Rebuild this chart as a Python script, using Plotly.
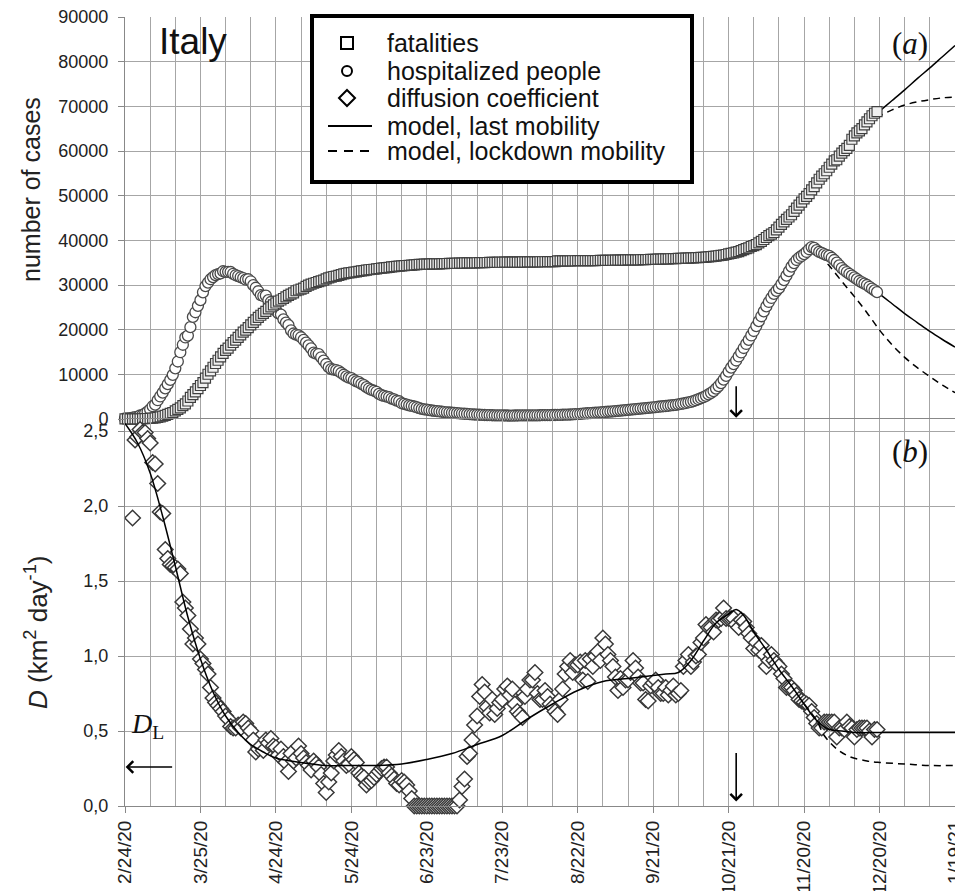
import pandas as pd
import plotly.graph_objects as go

START = "2020-02-24"

# cumulative fatalities, daily from 2/24/20
fatalities = [
    7, 10, 12, 17, 21, 29, 34, 52, 79, 107,
    148, 197, 233, 366, 463, 631, 827, 1016, 1266, 1441,
    1809, 2158, 2503, 2978, 3405, 4032, 4825, 5476, 6077, 6820,
    7503, 8165, 9134, 10023, 10779, 11591, 12428, 13155, 13915, 14681,
    15362, 15887, 16523, 17127, 17669, 18279, 18849, 19468, 19899, 20465,
    21067, 21645, 22170, 22745, 23227, 23660, 24114, 24648, 25085, 25549,
    25969, 26384, 26644, 26977, 27359, 27682, 27967, 28236, 28710, 28884,
    29079, 29315, 29684, 29958, 30201, 30395, 30560, 30739, 30911, 31106,
    31368, 31610, 31763, 31908, 32007, 32169, 32330, 32486, 32616, 32735,
    32785, 32877, 32955, 33072, 33142, 33229, 33340, 33415, 33475, 33530,
    33601, 33689, 33774, 33846, 33899, 33964, 34043, 34114, 34167, 34223,
    34301, 34345, 34371, 34405, 34448, 34514, 34561, 34610, 34634, 34657,
    34675, 34682, 34708, 34716, 34738, 34744, 34767, 34788, 34818, 34833,
    34854, 34861, 34869, 34899, 34914, 34926, 34938, 34945, 34954, 34967,
    34984, 34997, 35017, 35028, 35042, 35045, 35058, 35073, 35082, 35092,
    35097, 35102, 35107, 35112, 35123, 35129, 35132, 35141, 35146, 35154,
    35166, 35171, 35181, 35187, 35190, 35203, 35205, 35209, 35215, 35225,
    35231, 35234, 35392, 35396, 35400, 35405, 35412, 35418, 35427, 35430,
    35437, 35441, 35445, 35458, 35463, 35472, 35473, 35477, 35483, 35491,
    35497, 35507, 35518, 35534, 35541, 35553, 35563, 35577, 35587, 35597,
    35603, 35610, 35624, 35633, 35645, 35658, 35668, 35692, 35707, 35724,
    35738, 35758, 35781, 35801, 35818, 35835, 35851, 35875, 35894, 35918,
    35941, 35968, 35986, 36002, 36030, 36061, 36083, 36111, 36140, 36166,
    36205, 36246, 36289, 36372, 36427, 36474, 36543, 36616, 36705, 36832,
    36968, 37059, 37210, 37338, 37479, 37700, 37905, 38122, 38321, 38618,
    38826, 39059, 39412, 39764, 40192, 40638, 41063, 41394, 41750, 42330,
    42953, 43589, 44139, 44683, 45229, 45733, 46464, 47217, 47870, 48569,
    49261, 49823, 50453, 51306, 52028, 52850, 53677, 54363, 54904, 55576,
    56361, 57045, 57779, 58038, 58852, 59514, 60078, 60606, 61240, 62626,
    63387, 64036, 64520, 65011, 65857, 66537, 67220, 67894, 68447, 68799,
]

# hospitalized people, daily from 2/24/20
hospitalized = [
    127, 150, 164, 304, 409, 506, 779, 908, 1263, 1641,
    2141, 2856, 3218, 4207, 5049, 5915, 6866, 7803, 8754, 9890,
    11335, 12876, 14954, 16620, 18255, 18675, 20565, 22855, 23896, 25333,
    26601, 28365, 29761, 30532, 31292, 31776, 32215, 32438, 32593, 33078,
    32943, 32953, 32908, 32510, 32178, 32004, 31739, 31525, 31190, 31283,
    30829, 29972, 29383, 28598, 27740, 27541, 27606, 26605, 26189, 25138,
    24241, 23635, 23381, 22309, 21586, 21005, 19843, 19147, 18896, 18743,
    18302, 17697, 17102, 16485, 15804, 14868, 14645, 14538, 13817, 13065,
    12308, 11600, 11175, 11073, 10956, 10707, 10300, 9909, 9552, 9267,
    9166, 8726, 8438, 8234, 7868, 7569, 7130, 6822, 6523, 6324,
    6095, 5639, 5318, 5157, 5016, 4864, 4583, 4380, 4129, 3974,
    3521, 3368, 3229, 3045, 2917, 2796, 2626, 2440, 2258, 2157,
    2081, 1980, 1900, 1820, 1750, 1690, 1620, 1560, 1500, 1450,
    1400, 1350, 1300, 1260, 1220, 1180, 1130, 1090, 1050, 1010,
    980, 950, 920, 900, 880, 860, 840, 820, 800, 790,
    790, 780, 780, 770, 770, 780, 780, 790, 790, 800,
    800, 810, 810, 820, 830, 840, 850, 860, 870, 880,
    890, 900, 910, 930, 950, 970, 990, 1010, 1040, 1080,
    1110, 1150, 1200, 1250, 1290, 1330, 1370, 1400, 1440, 1480,
    1520, 1570, 1620, 1670, 1720, 1780, 1830, 1880, 1930, 1990,
    2050, 2110, 2170, 2230, 2280, 2340, 2390, 2440, 2500, 2560,
    2620, 2680, 2740, 2800, 2850, 2910, 2970, 3030, 3100, 3170,
    3290, 3380, 3470, 3580, 3700, 3850, 4020, 4210, 4420, 4650,
    4890, 5180, 5500, 5860, 6260, 6790, 7380, 8040, 8800, 9650,
    10600, 11500, 12300, 13100, 14000, 14900, 15900, 16800, 17700, 18700,
    19700, 20800, 21900, 23000, 24100, 25200, 26200, 27100, 28000, 28700,
    29300, 30200, 31100, 32100, 33100, 34100, 34900, 35600, 36100, 36500,
    36900, 37400, 38000, 38500, 38300, 37800, 37400, 37200, 36900, 36700,
    36500, 36100, 35600, 35000, 34400, 33800, 33300, 32900, 32500, 32100,
    31700, 31300, 30900, 30600, 30300, 30000, 29600, 29200, 28800, 28400,
]

# diffusion coefficient D (km^2 day^-1), daily from 2/24/20
diffusion = [
    None, None, None, 1.92, 2.44, 2.46, 2.51, 2.49, 2.49, 2.45,
    2.42, 2.29, 2.28, 2.15, 1.96, 1.95, 1.71, 1.65, 1.61, 1.60,
    1.59, 1.58, 1.55, 1.36, 1.32, 1.27, 1.18, 1.08, 1.12, 1.08,
    0.98, 0.95, 0.91, 0.88, 0.79, 0.72, 0.69, 0.67, 0.65, 0.63,
    0.60, 0.58, 0.53, 0.52, 0.52, 0.54, 0.52, 0.56, 0.55, 0.52,
    0.50, 0.44, 0.36, 0.38, 0.40, 0.37, 0.44, 0.42, 0.45, 0.40,
    0.39, 0.34, 0.38, 0.33, 0.29, 0.23, 0.35, 0.30, 0.32, 0.40,
    0.35, 0.32, 0.29, 0.27, 0.24, 0.30, 0.28, 0.26, 0.21, 0.15,
    0.09, 0.16, 0.22, 0.30, 0.34, 0.37, 0.33, 0.30, 0.27, 0.28,
    0.33, 0.31, 0.29, 0.22, 0.20, 0.19, 0.14, 0.16, 0.17, 0.19,
    0.21, 0.23, 0.25, 0.26, 0.26, 0.22, 0.20, 0.18, 0.15, 0.14,
    0.17, 0.16, 0.14, 0.10, 0.05, 0.0, 0.0, 0.0, 0.0, 0.0,
    0.0, 0.0, 0.0, 0.0, 0.0, 0.0, 0.0, 0.0, 0.0, 0.0,
    0.0, 0.0, 0.0, 0.04, 0.13, 0.18, 0.33, 0.35, 0.44, 0.54,
    0.60, 0.73, 0.81, 0.76, 0.66, 0.62, 0.71, 0.61, 0.65, 0.69,
    0.71, 0.78, 0.80, 0.74, 0.78, 0.68, 0.63, 0.61, 0.59, 0.73,
    0.78, 0.84, 0.84, 0.89, 0.75, 0.71, 0.71, 0.77, 0.73, 0.68,
    0.66, 0.63, 0.61, 0.71, 0.78, 0.88, 0.93, 0.97, 0.89, 0.94,
    0.94, 0.96, 0.84, 0.97, 0.83, 0.98, 0.93, 1.00, 1.03, 0.97,
    1.12, 1.08, 1.01, 0.97, 0.93, 0.86, 0.77, 0.85, 0.79, 0.84,
    0.84, 0.89, 0.97, 0.92, 0.86, 0.82, 0.82, 0.71, 0.70, 0.80,
    0.82, 0.84, 0.79, 0.75, 0.75, 0.79, 0.74, 0.77, 0.80, 0.74,
    0.75, 0.77, 0.93, 0.97, 1.01, 0.93, 0.96, 1.00, 1.01, 1.09,
    1.12, 1.21, 1.19, 1.19, 1.16, 1.24, 1.24, 1.25, 1.32, 1.25,
    1.25, 1.25, 1.25, 1.21, 1.19, 1.24, 1.23, 1.19, 1.15, 1.12,
    1.05, 1.09, 1.04, 1.07, 1.01, 0.93, 0.97, 1.01, 0.97, 0.95,
    0.93, 0.88, 0.85, 0.79, 0.79, 0.79, 0.77, 0.74, 0.71, 0.70,
    0.69, 0.68, 0.67, 0.63, 0.59, 0.55, 0.52, 0.52, 0.56, 0.56,
    0.56, 0.56, 0.56, 0.46, 0.52, 0.52, 0.51, 0.56, 0.53, 0.52,
    0.46, 0.51, 0.52, 0.52, 0.52, 0.52, 0.50, 0.46, 0.51, 0.51,
]

# model curves (day offset from 2/24/20, value)
model_fat_last_days = [285, 290, 295, 299, 305, 310, 315, 320, 325, 330]
model_fat_last = [60078, 63387, 66537, 68447, 71300, 73700, 76200, 78600, 81100, 83600]
model_fat_lock_days = [285, 290, 295, 300, 305, 310, 315, 320, 325, 330]
model_fat_lock = [60078, 63200, 65900, 67800, 69200, 70300, 71000, 71500, 71900, 72100]

model_hosp_last_days = [272, 275, 280, 285, 290, 295, 299, 305, 310, 315, 320, 325, 330]
model_hosp_last = [38000, 37800, 36500, 33800, 31700, 30000, 28400, 25800, 23600, 21600, 19600, 17800, 16100]
model_hosp_lock_days = [272, 276, 280, 285, 290, 295, 300, 305, 310, 315, 320, 325, 330]
model_hosp_lock = [38000, 36800, 34300, 30800, 27400, 23800, 19900, 16600, 13800, 11500, 9500, 7600, 5900]

model_D_last_days = [0, 5, 10, 15, 20, 25, 30, 35, 40, 45, 50, 55, 60, 70, 80, 90, 100, 110, 120,
                     130, 140, 150, 160, 170, 180, 190, 200, 210, 215, 220, 225, 230, 235, 240,
                     243, 246, 250, 255, 260, 265, 270, 275, 280, 285, 290, 300, 330]
model_D_last = [2.55, 2.42, 2.22, 1.93, 1.60, 1.26, 0.98, 0.76, 0.60, 0.49, 0.41, 0.36, 0.32, 0.29,
                0.27, 0.27, 0.27, 0.28, 0.31, 0.35, 0.41, 0.47, 0.58, 0.68, 0.77, 0.83, 0.85, 0.87,
                0.88, 0.89, 0.97, 1.10, 1.22, 1.28, 1.31, 1.27, 1.16, 1.04, 0.91, 0.80, 0.68, 0.57,
                0.51, 0.50, 0.49, 0.49, 0.49]
model_D_lock_days = [270, 275, 278, 283, 288, 295, 300, 310, 320, 330]
model_D_lock = [0.68, 0.57, 0.47, 0.38, 0.33, 0.30, 0.29, 0.28, 0.27, 0.27]

tick_labels = ["2/24/20", "3/25/20", "4/24/20", "5/24/20", "6/23/20", "7/23/20",
               "8/22/20", "9/21/20", "10/21/20", "11/20/20", "12/20/20", "1/19/21"]
cases_ticks = [0, 10000, 20000, 30000, 40000, 50000, 60000, 70000, 80000, 90000]
d_ticks = [0.0, 0.5, 1.0, 1.5, 2.0, 2.5]
d_ticktext = ["0,0", "0,5", "1,0", "1,5", "2,0", "2,5"]

legend_labels = ["fatalities", "hospitalized people", "diffusion coefficient",
                 "model, last mobility", "model, lockdown mobility"]

start = pd.Timestamp(START)
def to_dates(days):
    return [start + pd.Timedelta(days=d) for d in days]

dates = pd.date_range(START, periods=len(fatalities), freq="D")
tick_dates = pd.to_datetime(tick_labels, format="%m/%d/%y")

SANS = "Arial, Liberation Sans, sans-serif"
SERIF = "Times New Roman, Liberation Serif, serif"
GRID = "#a6a6a6"

# page body has an 8px margin: figure is drawn offset by (8, 8) in the window
OFF = 8
FIG_W, FIG_H = 963 - OFF, 891 - OFF
# plot area in window pixels
L, R, T, B = 125, 955, 17, 806
def px(x):
    return (x - L) / (R - L)
def py(y):
    return (B - y) / (B - T)

fig = go.Figure()

# top panel model lines (under markers)
for days, vals, dash in [(model_fat_last_days, model_fat_last, "solid"),
                         (model_fat_lock_days, model_fat_lock, "7px,5px"),
                         (model_hosp_last_days, model_hosp_last, "solid"),
                         (model_hosp_lock_days, model_hosp_lock, "7px,5px")]:
    fig.add_trace(go.Scatter(x=to_dates(days), y=vals, mode="lines", showlegend=False,
                             line=dict(color="black", width=1.5, dash=dash, shape="spline"),
                             xaxis="x", yaxis="y", hoverinfo="skip"))

fig.add_trace(go.Scatter(x=dates, y=hospitalized, mode="markers", name="hospitalized people",
                         marker=dict(symbol="circle", size=11, color="white",
                                     line=dict(color="#4a4a4a", width=1.3)),
                         xaxis="x", yaxis="y", cliponaxis=False))
fig.add_trace(go.Scatter(x=dates, y=fatalities, mode="markers", name="fatalities",
                         marker=dict(symbol="square", size=10, color="#efefef",
                                     line=dict(color="#404040", width=1.2)),
                         xaxis="x", yaxis="y", cliponaxis=False))

# bottom panel
fig.add_trace(go.Scatter(x=dates, y=diffusion, mode="markers", name="diffusion coefficient",
                         marker=dict(symbol="diamond", size=12, color="white",
                                     line=dict(color="#383838", width=1.5)),
                         xaxis="x", yaxis="y2", cliponaxis=False))
fig.add_trace(go.Scatter(x=to_dates(model_D_last_days), y=model_D_last, mode="lines",
                         name="model, last mobility",
                         line=dict(color="black", width=1.5, shape="spline"),
                         xaxis="x", yaxis="y2", hoverinfo="skip"))
fig.add_trace(go.Scatter(x=to_dates(model_D_lock_days), y=model_D_lock, mode="lines",
                         name="model, lockdown mobility",
                         line=dict(color="black", width=1.5, dash="7px,5px", shape="spline"),
                         xaxis="x", yaxis="y2", hoverinfo="skip"))

split = (B - 419) / (B - T)

axis_common = dict(
    showgrid=True, gridcolor=GRID, gridwidth=1,
    ticks="outside", ticklen=6, tickcolor="#888",
    showline=True, linecolor="#888", linewidth=1, mirror=True,
    automargin=False, ticklabeloverflow="allow",
)

fig.update_layout(
    width=FIG_W, height=FIG_H,
    margin=dict(l=L - OFF, r=963 - R, t=T - OFF, b=891 - B, autoexpand=False),
    paper_bgcolor="white", plot_bgcolor="white",
    font=dict(family=SANS, color="#222222"),
    showlegend=False,
    xaxis=dict(
        type="date", range=[START, "2021-01-19"], anchor="y2",
        tickmode="array", tickvals=tick_dates, ticktext=tick_labels,
        tickangle=-90, tickfont=dict(size=19, family=SANS, color="#222"),
        minor=dict(tick0=START, dtick=10 * 86400000, showgrid=True,
                   gridcolor=GRID, gridwidth=1, ticks=""),
        zeroline=False, **axis_common,
    ),
    yaxis=dict(
        domain=[split, 1], anchor="x", range=[0, 90000],
        tickmode="array", tickvals=cases_ticks, ticktext=[str(v) for v in cases_ticks],
        tickfont=dict(size=18, family=SANS, color="#222"), ticklabelstandoff=6,
        zeroline=True, zerolinecolor="black", zerolinewidth=1.2, **axis_common,
    ),
    yaxis2=dict(
        domain=[0, split], anchor="x", range=[0, (B - 419) / 150],
        tickmode="array", tickvals=d_ticks, ticktext=d_ticktext,
        tickfont=dict(size=18, family=SANS, color="#222"), ticklabelstandoff=6,
        zeroline=False, **axis_common,
    ),
)

annotations = [
    # axis titles
    dict(text="number of cases", x=px(31), y=py(190), xref="paper", yref="paper",
         textangle=-90, showarrow=False, xanchor="center", yanchor="middle",
         font=dict(family=SANS, size=25, color="#222")),
    dict(text="<i>D</i> (km<sup>2</sup> day<sup>-1</sup>)", x=px(36), y=py(633),
         xref="paper", yref="paper", textangle=-90, showarrow=False,
         xanchor="center", yanchor="middle",
         font=dict(family=SANS, size=26, color="#222")),
    # panel labels
    dict(text="Italy", x=px(193), y=py(42), xref="paper", yref="paper", showarrow=False,
         xanchor="center", yanchor="middle", font=dict(family=SANS, size=37, color="#111")),
    dict(text="(<i>a</i>)", x=px(910), y=py(43), xref="paper", yref="paper", showarrow=False,
         xanchor="center", yanchor="middle", font=dict(family=SERIF, size=31, color="#111")),
    dict(text="(<i>b</i>)", x=px(910), y=py(452), xref="paper", yref="paper", showarrow=False,
         xanchor="center", yanchor="middle", font=dict(family=SERIF, size=31, color="#111")),
    dict(text="<i>D</i><sub>L</sub>", x=start + pd.Timedelta(days=9), y=0.54, xref="x", yref="y2",
         showarrow=False, xanchor="center", yanchor="middle",
         font=dict(family=SERIF, size=28, color="#111")),
    # arrows
    dict(text="", x=start + pd.Timedelta(hours=6), y=0.26, xref="x", yref="y2",
         showarrow=True, ax=48, ay=0, arrowhead=4, arrowsize=1.4, arrowwidth=1.6,
         arrowcolor="black"),
    dict(text="", x=start + pd.Timedelta(days=243), y=300, xref="x", yref="y",
         showarrow=True, ax=0, ay=-33, arrowhead=4, arrowsize=1.4, arrowwidth=1.6,
         arrowcolor="black"),
    dict(text="", x=start + pd.Timedelta(days=243), y=0.03, xref="x", yref="y2",
         showarrow=True, ax=0, ay=-50, arrowhead=4, arrowsize=1.4, arrowwidth=1.6,
         arrowcolor="black"),
]

# hand-drawn legend box (rows at window pixel y)
row_y = [43, 71, 98, 126, 151]
for lab, yy in zip(legend_labels, row_y):
    annotations.append(dict(text=lab, x=px(385), y=py(yy), xref="paper", yref="paper",
                            showarrow=False, xanchor="left", yanchor="middle",
                            font=dict(family=SANS, size=25, color="#111")))

shapes = [
    dict(type="rect", xref="paper", yref="paper", x0=px(312), x1=px(692), y0=py(182), y1=py(16),
         line=dict(color="black", width=4), fillcolor="white", layer="above"),
    dict(type="rect", xref="paper", yref="paper", x0=px(341), x1=px(353),
         y0=py(row_y[0] + 6), y1=py(row_y[0] - 6),
         line=dict(color="black", width=2), fillcolor="white"),
    dict(type="circle", xref="paper", yref="paper", x0=px(342), x1=px(352),
         y0=py(row_y[1] + 5), y1=py(row_y[1] - 5),
         line=dict(color="black", width=2), fillcolor="white"),
    dict(type="path", xref="paper", yref="paper",
         path="M {a},{b} L {c},{d} L {a},{e} L {f},{d} Z".format(
             a=px(347), b=py(row_y[2] - 8), c=px(355), d=py(row_y[2]),
             e=py(row_y[2] + 8), f=px(339)),
         line=dict(color="black", width=2), fillcolor="white"),
    dict(type="line", xref="paper", yref="paper", x0=px(328), x1=px(372),
         y0=py(row_y[3]), y1=py(row_y[3]), line=dict(color="black", width=2)),
    dict(type="line", xref="paper", yref="paper", x0=px(328), x1=px(372),
         y0=py(row_y[4]), y1=py(row_y[4]), line=dict(color="black", width=2, dash="9px,7px")),
]

fig.update_layout(annotations=annotations, shapes=shapes)

fig.write_html("out.html")
